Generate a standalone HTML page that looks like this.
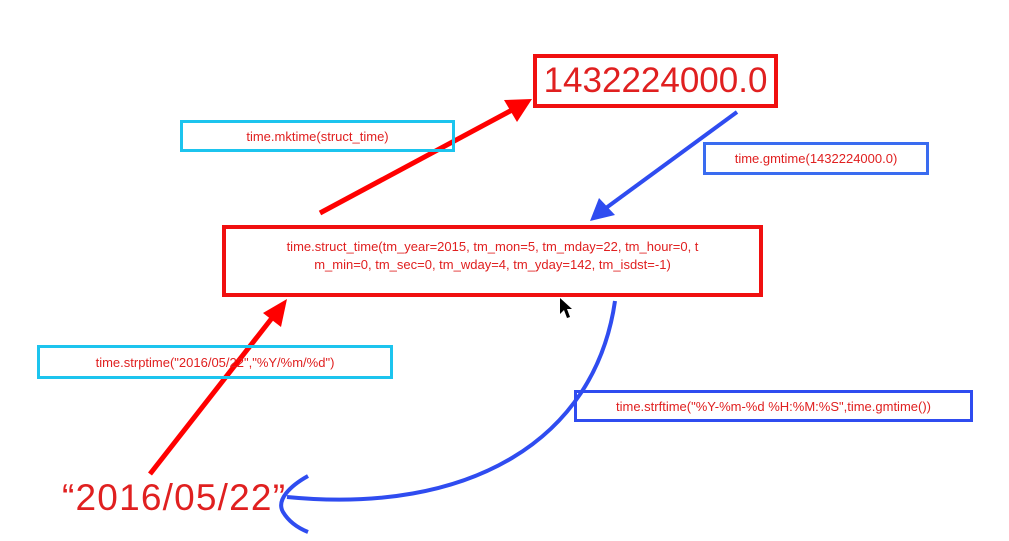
<!DOCTYPE html>
<html><head><meta charset="utf-8"><style>
html,body{margin:0;padding:0;background:#fff;width:1009px;height:541px;overflow:hidden;}
body{position:relative;font-family:"Liberation Sans",sans-serif;color:#e02020;}
.b{position:absolute;box-sizing:border-box;display:flex;align-items:center;justify-content:center;text-align:center;font-size:13px;}
</style></head><body>
<svg width="1009" height="541" style="position:absolute;left:0;top:0">
<line x1="320" y1="213" x2="512" y2="110" stroke="#ff0000" stroke-width="5"/>
<path d="M532,99 L504,100 L517,122z" fill="#ff0000"/>
<line x1="150" y1="474" x2="272" y2="318" stroke="#ff0000" stroke-width="5"/>
<path d="M287,299 L263,313 L281,327z" fill="#ff0000"/>
<line x1="737" y1="112" x2="606" y2="208" stroke="#2f4cf0" stroke-width="4"/>
<path d="M590,221 L599,198 L615,215z" fill="#2f4cf0"/>
<path d="M615,301 C595,440 470,515 287,497" fill="none" stroke="#2f4cf0" stroke-width="4"/>
<path d="M308,476 C290,486 276,500 283,512 C289,522 298,528 308,532" fill="none" stroke="#2f4cf0" stroke-width="4"/>
<path d="M560,298 L560,314 L564,310 L567,318 L570,317 L567,309 L572,309z" fill="#000"/>
</svg>
<div class="b" style="left:533px;top:54px;width:245px;height:54px;border:4px solid #f01010;font-size:35px;">1432224000.0</div>
<div class="b" style="left:180px;top:120px;width:275px;height:32px;border:3px solid #1cc4ee;">time.mktime(struct_time)</div>
<div class="b" style="left:703px;top:142px;width:226px;height:33px;border:3px solid #3a6cf0;">time.gmtime(1432224000.0)</div>
<div class="b" style="left:222px;top:225px;width:541px;height:72px;border:4px solid #f01010;align-items:flex-start;padding-top:9px;line-height:18px;">time.struct_time(tm_year=2015, tm_mon=5, tm_mday=22, tm_hour=0, t<br>m_min=0, tm_sec=0, tm_wday=4, tm_yday=142, tm_isdst=-1)</div>
<div class="b" style="left:37px;top:345px;width:356px;height:34px;border:3px solid #1cc4ee;">time.strptime("2016/05/22","%Y/%m/%d")</div>
<div class="b" style="left:574px;top:390px;width:399px;height:32px;border:3px solid #2f4cf0;">time.strftime("%Y-%m-%d %H:%M:%S",time.gmtime())</div>
<div style="position:absolute;left:62px;top:476px;font-size:37px;line-height:44px;letter-spacing:1.2px;">“2016/05/22”</div>
</body></html>
